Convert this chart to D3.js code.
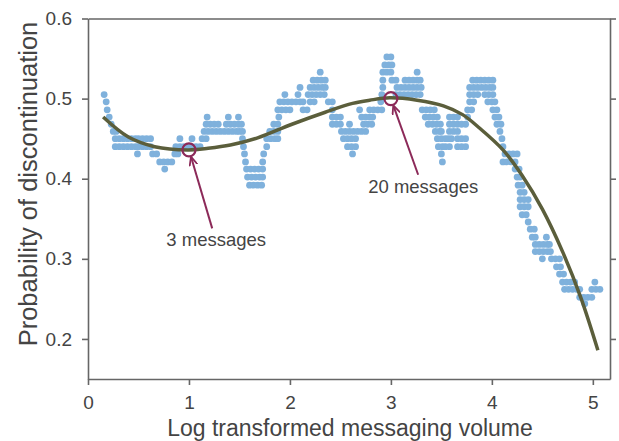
<!DOCTYPE html>
<html lang="en">
<head>
<meta charset="UTF-8">
<title>Probability of discontinuation</title>
<style>
    body { margin: 0; background: #fff; }
    svg { display: block; font-family: "Liberation Sans", Arial, sans-serif; }
    .axis path, .axis line { stroke: #666; stroke-width: 1.6; }
    .axis text { fill: #444; font-size: 19px; }
</style>
</head>
<body>
<div id="chart"></div>
<script src="https://cdn.jsdelivr.net/npm/d3@7"></script>
<script>
// tick values
const xTicks = [0, 1, 2, 3, 4, 5];
const yTicks = [0.2, 0.3, 0.4, 0.5, 0.6];

// scatter dots: [probability, [log volume, ...]]
const dotRows = [
    [0.552, [2.96, 3.00]],
    [0.542, [2.94, 2.98, 3.01]],
    [0.533, [2.30, 2.92, 2.96, 3.00, 3.26]],
    [0.523, [2.23, 2.27, 2.31, 2.35, 2.92, 3.01, 3.05, 3.14, 3.18, 3.22, 3.26, 3.29, 3.81, 3.85, 3.89, 3.93, 3.97, 4.01]],
    [0.514, [2.10, 2.20, 2.24, 2.28, 2.32, 2.35, 2.92, 3.06, 3.10, 3.14, 3.18, 3.22, 3.26, 3.30, 3.78, 3.82, 3.86, 3.90, 3.94, 3.98, 4.01]],
    [0.505, [0.16, 1.95, 2.08, 2.18, 2.22, 2.26, 2.30, 2.34, 2.91, 3.05, 3.09, 3.13, 3.17, 3.21, 3.25, 3.29, 3.78, 3.82, 3.86, 3.93, 3.97, 4.01]],
    [0.496, [0.18, 1.90, 1.94, 1.98, 2.02, 2.06, 2.10, 2.13, 2.20, 2.24, 2.38, 2.42, 2.90, 3.78, 3.82, 3.96, 4.00, 4.03]],
    [0.486, [0.19, 1.88, 1.92, 1.96, 2.00, 2.13, 2.17, 2.42, 2.69, 2.79, 2.83, 2.87, 2.91, 3.31, 3.35, 3.39, 3.43, 3.76, 3.80, 4.01, 4.05]],
    [0.477, [0.21, 1.18, 1.39, 1.49, 1.89, 2.42, 2.46, 2.50, 2.71, 2.75, 2.79, 2.82, 3.34, 3.38, 3.42, 3.46, 3.58, 3.62, 3.66, 3.76, 4.03, 4.07]],
    [0.468, [0.23, 1.17, 1.21, 1.25, 1.29, 1.37, 1.41, 1.45, 1.49, 1.52, 1.84, 1.88, 2.42, 2.46, 2.50, 2.59, 2.73, 2.77, 2.81, 3.37, 3.41, 3.45, 3.49, 3.58, 3.62, 3.66, 3.70, 3.74, 4.05, 4.09]],
    [0.459, [0.25, 0.28, 1.15, 1.19, 1.23, 1.27, 1.31, 1.35, 1.39, 1.43, 1.47, 1.50, 1.53, 1.80, 1.84, 1.88, 2.51, 2.55, 2.59, 2.63, 2.67, 2.71, 2.75, 3.44, 3.48, 3.50, 3.58, 3.62, 3.66, 4.08]],
    [0.450, [0.27, 0.31, 0.35, 0.39, 0.43, 0.47, 0.50, 0.54, 0.58, 0.62, 0.91, 1.03, 1.13, 1.17, 1.53, 1.77, 1.81, 1.85, 1.88, 2.53, 2.57, 2.61, 2.65, 3.46, 3.50, 3.54, 3.57, 3.60, 3.66, 3.70, 3.74, 4.10]],
    [0.440, [0.27, 0.31, 0.35, 0.39, 0.43, 0.47, 0.50, 0.54, 0.58, 0.62, 0.87, 0.91, 0.95, 0.99, 1.03, 1.07, 1.11, 1.54, 1.77, 2.57, 2.61, 2.65, 3.47, 3.51, 3.54, 3.58, 3.66, 3.70, 3.74, 4.11]],
    [0.431, [0.49, 0.64, 0.68, 0.86, 0.89, 1.55, 1.74, 2.62, 3.50, 4.13, 4.17, 4.21, 4.25]],
    [0.421, [0.71, 0.75, 0.79, 0.83, 1.56, 1.73, 3.51, 4.11, 4.15, 4.19, 4.23]],
    [0.412, [0.76, 1.57, 1.61, 1.65, 1.69, 1.73, 4.23, 4.27]],
    [0.402, [1.58, 1.62, 1.66, 1.70, 1.73, 4.25, 4.28]],
    [0.392, [1.60, 1.64, 1.68, 1.72, 4.26, 4.30]],
    [0.383, [4.28, 4.32]],
    [0.374, [4.28, 4.32, 4.36]],
    [0.365, [4.28, 4.32, 4.36]],
    [0.355, [4.30, 4.34]],
    [0.346, [4.36]],
    [0.337, [4.38, 4.42]],
    [0.327, [4.40, 4.43, 4.54]],
    [0.318, [4.43, 4.47, 4.51, 4.55, 4.57]],
    [0.309, [4.43, 4.47, 4.51, 4.55, 4.58]],
    [0.300, [4.50, 4.59, 4.63, 4.67]],
    [0.290, [4.64, 4.68]],
    [0.281, [4.67, 4.71]],
    [0.271, [4.70, 4.74, 4.78, 4.82, 5.02]],
    [0.262, [4.72, 4.76, 4.80, 4.84, 4.87, 4.99, 5.03, 5.07]],
    [0.252, [4.87, 4.91, 4.95, 4.99]],
    [0.244, [4.92]]
];

// fitted curve
const fitX = [0.15, 0.40, 0.66, 0.99, 1.19, 1.41, 1.68, 2.02, 2.35, 2.62, 2.79, 2.99, 3.26, 3.52, 3.71, 3.88, 4.11, 4.30, 4.50, 4.70, 4.88, 5.05];
const fitY = [0.477, 0.452, 0.440, 0.436, 0.438, 0.442, 0.451, 0.468, 0.483, 0.494, 0.498, 0.501, 0.498, 0.491, 0.480, 0.463, 0.436, 0.404, 0.362, 0.309, 0.252, 0.186];

// annotations: marked point, arrow tail and label anchor
const notes = [
    {label: '3 messages', x: 1, y: 0.436, tailX: 1.23, tailY: 0.338, textX: 1.27, textY: 0.316},
    {label: '20 messages', x: 3, y: 0.500, tailX: 3.27, tailY: 0.405, textX: 3.32, textY: 0.382}
];

const width = 619, height = 441;
const margin = {top: 18.5, right: 9, bottom: 62, left: 88};

const svg = d3.select('#chart')
    .append('svg')
    .attr('width', width)
    .attr('height', height);

const x = d3.scaleLinear().domain([0, 5.17]).range([margin.left, width - margin.right]);
const y = d3.scaleLinear().domain([0.15, 0.6]).range([height - margin.bottom, margin.top]);

svg.append('defs').append('marker')
    .attr('id', 'head')
    .attr('viewBox', '0 -5 10 10')
    .attr('refX', 9)
    .attr('refY', 0)
    .attr('markerWidth', 9)
    .attr('markerHeight', 9)
    .attr('markerUnits', 'userSpaceOnUse')
    .attr('orient', 'auto')
    .append('path')
    .attr('d', 'M0,-4.5L10,0L0,4.5')
    .attr('fill', 'none')
    .attr('stroke', '#8c2a59')
    .attr('stroke-width', 2);

// frame
svg.append('g').attr('class', 'axis')
    .attr('transform', `translate(0,${height - margin.bottom})`)
    .call(d3.axisBottom(x).tickValues(xTicks).tickFormat(d3.format('d')).tickSize(6).tickSizeOuter(0).tickPadding(11));

svg.append('g').attr('class', 'axis')
    .attr('transform', `translate(${margin.left},0)`)
    .call(d3.axisLeft(y).tickValues(yTicks).tickFormat(d3.format('.1f')).tickSize(6).tickSizeOuter(0).tickPadding(10));

svg.append('g').attr('class', 'axis')
    .attr('transform', `translate(${width - margin.right},0)`)
    .call(d3.axisRight(y).tickValues(yTicks).tickFormat('').tickSize(6).tickSizeOuter(0));

svg.append('g').attr('class', 'axis')
    .attr('transform', `translate(0,${margin.top})`)
    .call(d3.axisTop(x).tickValues([]).tickSizeOuter(0));

// dots
const dots = dotRows.flatMap(([p, xs]) => xs.map(v => ({x: v, y: p})));
svg.append('g')
    .selectAll('circle')
    .data(dots)
    .enter().append('circle')
    .attr('cx', d => x(d.x))
    .attr('cy', d => y(d.y))
    .attr('r', 3.4)
    .attr('fill', '#7fb1dc');

// fitted curve
const line = d3.line()
    .x((d, i) => x(fitX[i]))
    .y(d => y(d))
    .curve(d3.curveCatmullRom);

svg.append('path')
    .attr('d', line(fitY))
    .attr('fill', 'none')
    .attr('stroke', '#5b5e3b')
    .attr('stroke-width', 3.5);

// annotations
notes.forEach(n => {
    const x0 = x(n.tailX), y0 = y(n.tailY);
    const x1 = x(n.x), y1 = y(n.y);
    const len = Math.hypot(x1 - x0, y1 - y0);
    const k = (len - 8) / len;
    svg.append('line')
        .attr('x1', x0).attr('y1', y0)
        .attr('x2', x0 + (x1 - x0) * k).attr('y2', y0 + (y1 - y0) * k)
        .attr('stroke', '#8c2a59')
        .attr('stroke-width', 2)
        .attr('marker-end', 'url(#head)');
    svg.append('circle')
        .attr('cx', x1).attr('cy', y1)
        .attr('r', 6.5)
        .attr('fill', 'none')
        .attr('stroke', '#8c2a59')
        .attr('stroke-width', 2.2);
    svg.append('text')
        .attr('x', x(n.textX)).attr('y', y(n.textY))
        .attr('text-anchor', 'middle')
        .attr('fill', '#444')
        .style('font-size', '18.5px')
        .text(n.label);
});

// axis titles
svg.append('text')
    .attr('x', 350)
    .attr('y', 436)
    .attr('text-anchor', 'middle')
    .attr('fill', '#444')
    .style('font-size', '23px')
    .text('Log transformed messaging volume');

svg.append('text')
    .attr('transform', 'translate(37,184) rotate(-90)')
    .attr('text-anchor', 'middle')
    .attr('fill', '#444')
    .style('font-size', '25.5px')
    .text('Probability of discontinuation');
</script>
</body>
</html>
